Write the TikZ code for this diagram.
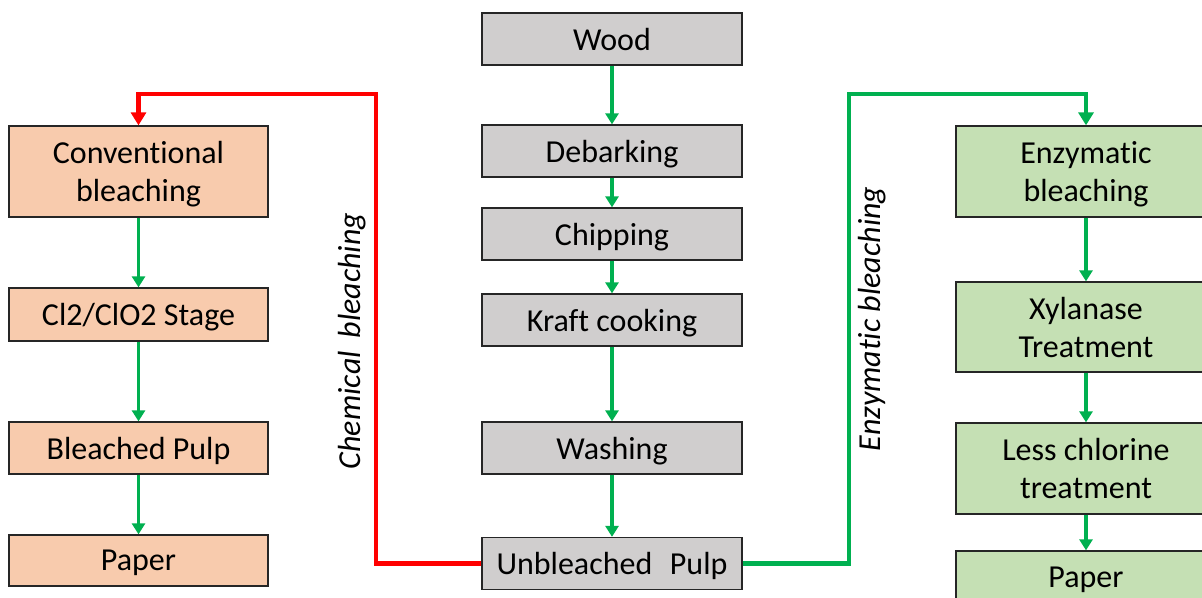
\documentclass[tikz,border=0pt]{standalone}
\usepackage{fontspec}
\setmainfont{Carlito}[Ligatures=NoCommon]
\usetikzlibrary{arrows.meta}

\definecolor{pulpgray}{HTML}{D0CECE}
\definecolor{chemorange}{HTML}{F8CBAD}
\definecolor{enzgreen}{HTML}{C5E0B4}
\definecolor{flowgreen}{HTML}{00B050}
\definecolor{chemred}{HTML}{FF0000}

\begin{document}
\begin{tikzpicture}[x=1pt,y=-1pt,
  box/.style={draw=black!85, line width=1.3pt, minimum width=260pt,
    inner sep=0pt, align=center, text=black, text depth=0pt,
    font=\fontsize{32}{38}\selectfont},
  graybox/.style={box, fill=pulpgray, minimum height=52pt},
  orangebox/.style={box, fill=chemorange},
  greenbox/.style={box, fill=enzgreen},
  flow/.style={draw=flowgreen, line width=3.8pt,
    -{Triangle[width=13pt,length=11pt]}},
  chemflow/.style={draw=chemred, line width=4.3pt, line join=miter,
    -{Triangle[width=15pt,length=13pt]}},
  enzflow/.style={draw=flowgreen, line width=4.3pt, line join=miter,
    -{Triangle[width=15pt,length=13pt]}},
  sidelabel/.style={rotate=90, inner sep=0pt,
    font=\fontsize{32}{38}\selectfont\itshape}
]
\useasboundingbox (0,0) rectangle (1202,597);
\clip (0,0) rectangle (1202,597);

% main pulping line
\node[graybox] (wood)   at (612,39)    {Wood};
\node[graybox] (debark) at (612,151)   {Debarking};
\node[graybox] (chip)   at (612,234)   {Chipping};
\node[graybox] (kraft)  at (612,320)   {Kraft cooking};
\node[graybox] (wash)   at (612,448)   {Washing};
\node[graybox] (unbl)   at (612,563.5) {Unbleached\hspace{0.55em}Pulp};

% conventional (chemical) route
\node[orangebox, minimum width=259pt, minimum height=91pt] (conv) at (138.5,171.5) {Conventional\\bleaching};
\node[orangebox, minimum width=259pt, minimum height=53pt] (cl2)  at (138.5,314.5) {Cl2/ClO2 Stage};
\node[orangebox, minimum width=259pt, minimum height=52pt] (bpulp) at (138.5,448) {Bleached Pulp};
\node[orangebox, minimum width=259pt, minimum height=51pt] (paperL) at (138.5,560.5) {Paper};

% enzymatic route
\node[greenbox, minimum height=91pt] (enz)  at (1086,171.5) {Enzymatic\\bleaching};
\node[greenbox, minimum height=90pt] (xyl)  at (1086,327)   {Xylanase\\Treatment};
\node[greenbox, minimum height=91pt] (less) at (1086,468.5) {Less chlorine\\treatment};
\node[greenbox, minimum height=52pt] (paperR) at (1086,577) {Paper};

% arrows along each column
\draw[flow] (wood) -- (debark);
\draw[flow] (debark) -- (chip);
\draw[flow] (chip) -- (kraft);
\draw[flow] (kraft) -- (wash);
\draw[flow] (wash) -- (unbl);

\draw[flow] (conv) -- (cl2);
\draw[flow] (cl2) -- (bpulp);
\draw[flow] (bpulp) -- (paperL);

\draw[flow] (enz) -- (xyl);
\draw[flow] (xyl) -- (less);
\draw[flow] (less) -- (paperR);

% branch connectors
\coordinate (chemcorner) at (376,94);
\coordinate (enzcorner) at (849,94);
\draw[chemflow] (unbl.west) -| (chemcorner) -| (conv.north);
\draw[enzflow] (unbl.east) -| (enzcorner) -| (enz.north);

% branch labels
\node[sidelabel] (chemlabel) at (352,341) {Chemical\hspace{0.4em}bleaching};
\node[sidelabel] (enzlabel) at (872,319) {Enzymatic bleaching};
\end{tikzpicture}
\end{document}
